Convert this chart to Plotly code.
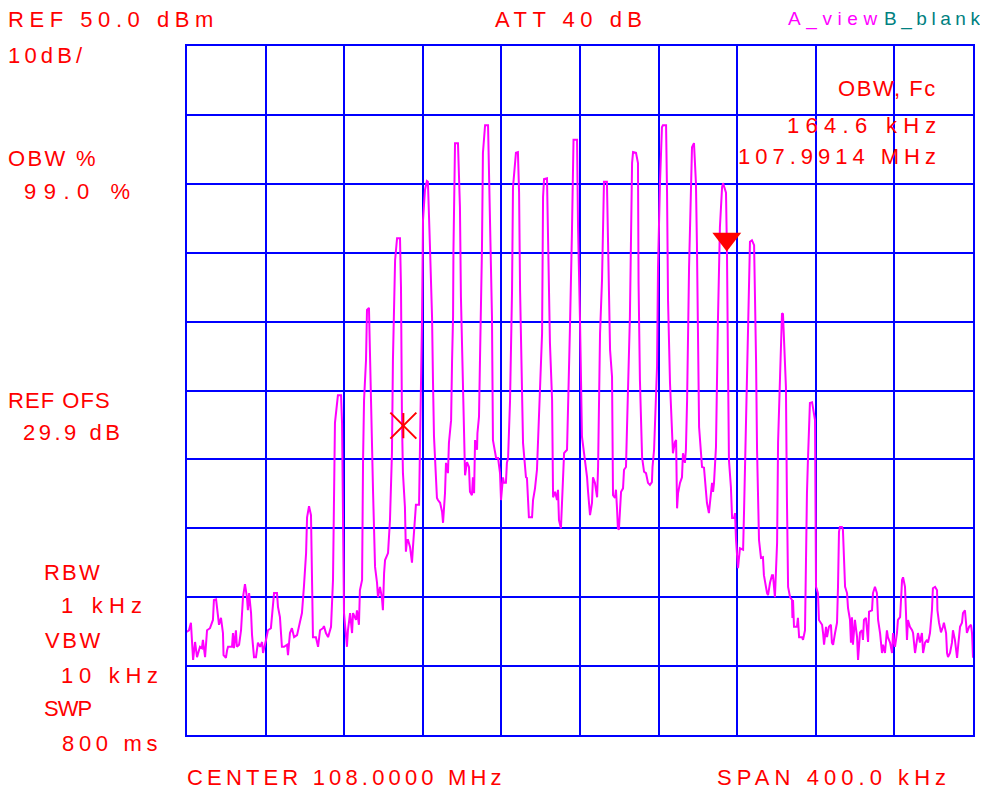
import plotly.graph_objects as go

# ---- spectrum trace: offset from 108.0000 MHz centre, kHz / level, dBm
FREQ_KHZ = [
    -200.5, -199.0, -198.0, -196.9, -195.9, -194.9, -193.4, -192.4, -191.9, -190.8,
    -189.8, -188.3, -186.8, -186.3, -185.2, -184.2, -183.7, -182.7, -181.7, -181.4,
    -180.2, -179.6, -179.1, -177.1, -176.6, -176.1, -175.1, -174.6, -173.5, -172.5,
    -171.5, -170.5, -169.5, -169.0, -168.4, -167.4, -166.9, -165.9, -164.9, -163.9,
    -162.8, -161.8, -161.3, -159.8, -158.8, -157.3, -156.7, -155.7, -154.2, -153.7,
    -152.7, -151.7, -150.6, -149.1, -148.6, -147.6, -146.6, -145.5, -144.0, -143.0,
    -142.0, -141.5, -140.5, -139.4, -138.9, -137.9, -136.9, -136.4, -135.9, -134.4,
    -133.3, -132.3, -130.8, -130.3, -129.3, -128.2, -126.7, -125.7, -125.2, -124.7,
    -123.2, -121.6, -121.1, -120.6, -120.1, -118.6, -118.1, -117.0, -116.0, -115.5,
    -114.0, -113.5, -112.5, -112.0, -110.9, -110.4, -109.9, -108.9, -108.4, -107.4,
    -106.9, -106.4, -105.9, -105.3, -104.3, -103.3, -102.8, -101.8, -100.8, -100.3,
    -99.7, -99.2, -97.7, -96.7, -95.7, -95.2, -94.1, -93.1, -91.6, -91.1,
    -90.6, -90.1, -89.1, -88.6, -88.0, -87.5, -86.5, -85.5, -85.0, -84.0,
    -83.5, -81.9, -81.4, -80.4, -79.9, -78.9, -77.9, -77.4, -76.3, -75.3,
    -74.8, -74.3, -72.8, -72.3, -71.2, -70.2, -69.7, -68.7, -68.2, -67.2,
    -66.7, -65.6, -65.1, -64.6, -64.4, -63.6, -62.1, -61.1, -60.6, -59.5,
    -59.0, -58.5, -57.5, -56.5, -56.0, -55.0, -54.5, -53.9, -53.4, -52.4,
    -52.2, -51.4, -50.9, -49.9, -49.4, -48.3, -46.8, -46.3, -45.8, -44.8,
    -44.3, -42.7, -41.7, -40.7, -40.2, -39.2, -38.7, -37.7, -37.2, -36.6,
    -35.6, -34.6, -34.1, -32.6, -31.6, -31.0, -30.5, -29.5, -29.0, -27.5,
    -27.0, -26.0, -24.4, -23.9, -22.9, -21.9, -21.4, -20.4, -19.3, -18.8,
    -18.3, -16.8, -16.3, -15.3, -14.2, -13.7, -12.7, -11.7, -11.2, -10.7,
    -9.7, -8.7, -8.1, -6.6, -6.1, -5.1, -4.1, -3.6, -3.3, -1.5,
    -1.0, 0.0, 1.0, 2.5, 3.6, 4.1, 5.1, 6.1, 6.6, 7.6,
    8.7, 9.2, 10.2, 11.2, 11.7, 12.2, 13.7, 14.2, 15.3, 16.3,
    16.8, 17.8, 18.3, 18.8, 19.3, 19.8, 20.4, 20.9, 21.9, 22.4,
    23.4, 24.4, 25.4, 26.5, 27.0, 28.5, 29.5, 29.8, 30.5, 31.6,
    32.6, 33.6, 34.6, 35.6, 36.6, 36.9, 37.7, 39.2, 39.7, 40.7,
    41.7, 42.2, 43.8, 44.3, 44.8, 45.8, 46.8, 47.3, 48.3, 48.9,
    49.4, 49.9, 50.9, 51.9, 52.4, 53.4, 53.9, 54.5, 55.5, 57.0,
    58.0, 59.0, 59.5, 59.8, 60.6, 62.1, 63.1, 64.6, 65.6, 67.2,
    67.7, 68.2, 69.2, 70.2, 71.2, 72.3, 72.8, 74.3, 74.8, 75.3,
    75.8, 76.8, 77.4, 78.4, 78.9, 79.4, 80.4, 81.4, 83.0, 83.5,
    84.5, 85.5, 86.5, 87.5, 88.6, 89.6, 90.1, 91.1, 92.1, 93.1,
    93.6, 95.2, 95.7, 96.7, 97.7, 98.2, 99.2, 100.3, 100.8, 101.8,
    102.8, 103.3, 104.3, 104.8, 105.3, 105.9, 106.9, 107.9, 108.1, 108.4,
    108.9, 110.4, 110.9, 111.5, 113.0, 113.5, 114.5, 115.0, 115.5, 116.0,
    117.0, 118.1, 118.6, 119.6, 120.1, 121.1, 121.6, 123.2, 123.7, 124.2,
    125.2, 125.7, 126.7, 127.7, 128.2, 128.8, 129.8, 130.8, 131.3, 131.8,
    132.3, 133.3, 133.8, 134.9, 135.9, 136.4, 137.4, 137.9, 138.4, 138.9,
    139.9, 141.0, 141.5, 142.5, 143.5, 144.0, 144.5, 145.5, 146.6, 147.1,
    148.6, 149.1, 150.1, 151.1, 151.7, 152.7, 153.7, 154.2, 155.2, 156.2,
    156.7, 157.8, 158.8, 159.3, 160.3, 161.3, 161.8, 162.9, 163.9, 164.4,
    165.4, 165.9, 166.4, 166.9, 167.9, 169.0, 169.5, 170.5, 171.5, 172.0,
    173.0, 174.0, 174.6, 175.6, 176.6, 177.1, 178.1, 179.1, 179.6, 180.7,
    181.7, 181.9, 182.7, 183.7, 184.7, 185.2, 186.3, 186.8, 187.3, 188.3,
    189.3, 189.8, 190.8, 191.9, 192.4, 193.4, 194.4, 194.9, 195.9, 196.4,
    196.9, 198.0, 199.0, 199.5, 200.0,
]
LEVEL_DBM = [
    -35.1, -34.8, -33.7, -39.1, -36.5, -38.7, -37.2, -37.4, -36.2, -38.7,
    -34.8, -34.5, -33.3, -30.4, -30.3, -32.3, -34.0, -33.0, -35.2, -38.4,
    -38.8, -37.7, -37.2, -37.2, -35.2, -37.4, -34.8, -37.2, -36.9, -34.8,
    -30.0, -28.1, -30.0, -31.9, -29.4, -32.3, -35.5, -38.7, -38.7, -36.6,
    -37.2, -36.5, -38.1, -36.2, -34.8, -34.5, -32.3, -29.4, -29.4, -31.4,
    -32.9, -37.2, -37.2, -36.9, -38.4, -35.2, -34.5, -35.8, -35.5, -34.3,
    -32.9, -32.3, -28.5, -23.6, -18.4, -16.8, -18.1, -27.5, -35.8, -35.8,
    -37.2, -34.8, -34.5, -34.2, -35.2, -35.8, -34.3, -27.5, -18.4, -4.7,
    -0.7, -0.7, -4.7, -21.7, -32.3, -37.2, -34.8, -32.3, -35.2, -32.3,
    -33.3, -31.9, -34.0, -29.0, -27.5, -10.1, -1.4, 4.4, 11.7, 12.0,
    5.4, -2.4, -10.1, -14.9, -25.6, -27.9, -30.0, -28.5, -30.1, -31.9,
    -26.5, -24.6, -23.6, -18.8, -9.1, 4.4, 18.9, 22.1, 22.1, 15.0,
    -4.3, -12.0, -16.9, -23.4, -21.7, -21.7, -22.7, -25.0, -22.7, -18.8,
    -16.6, -16.6, -9.1, 10.2, 24.7, 29.1, 30.4, 30.3, 20.4, 10.7,
    1.1, -6.7, -15.6, -15.9, -16.3, -17.6, -19.2, -14.9, -10.5, -12.0,
    -7.6, -4.3, 4.4, 10.7, 20.4, 35.9, 35.9, 26.6, 13.6, 2.0,
    -5.3, -12.3, -10.4, -11.1, -14.7, -15.2, -12.6, -14.9, -7.2, -8.6,
    -6.2, -3.8, 4.4, 20.4, 34.5, 38.5, 38.5, 32.4, 21.8, 10.7,
    -7.2, -9.8, -9.8, -12.0, -15.9, -12.6, -13.4, -13.4, -10.5, -9.8,
    -1.4, 14.2, 29.5, 34.5, 34.6, 28.7, 14.6, 2.0, -7.6, -12.6,
    -12.7, -18.4, -18.4, -15.9, -14.2, -11.5, -7.6, -1.4, 8.3, 28.1,
    30.7, 30.8, 23.7, 6.9, -1.4, -15.5, -14.7, -15.9, -14.4, -18.8,
    -20.0, -14.4, -9.1, -8.6, -0.9, 9.2, 22.9, 33.0, 36.4, 36.4,
    23.7, 10.2, -6.7, -10.1, -12.6, -14.7, -18.1, -16.3, -12.6, -13.4,
    -15.5, -11.1, 8.3, 16.0, 25.2, 30.3, 30.3, 20.4, 5.9, 2.0,
    -15.2, -15.6, -14.4, -16.9, -20.0, -20.2, -17.1, -14.7, -14.2, -11.5,
    -11.1, 0.5, 10.7, 33.0, 34.6, 34.5, 33.0, 15.6, 1.5, -9.7,
    -11.8, -12.0, -13.4, -13.7, -13.3, -11.1, -8.6, 3.4, 17.9, 30.1,
    38.2, 38.5, 38.5, 28.7, 13.1, 1.1, -7.9, -9.1, -7.5, -7.2,
    -17.1, -14.9, -13.4, -12.6, -9.1, -10.5, -8.6, -1.4, 17.9, 35.3,
    35.9, 30.1, 21.4, 11.7, -5.3, -11.1, -11.2, -16.3, -17.8, -13.4,
    -14.7, -13.4, -8.2, 10.2, 23.7, 29.5, 30.1, 28.7, 20.0, 4.4,
    -10.1, -14.0, -18.5, -18.5, -17.8, -21.7, -25.8, -22.9, -23.1, -17.3,
    -3.3, 12.7, 21.6, 21.8, 21.1, 4.4, -8.6, -21.7, -24.3, -24.2,
    -26.8, -29.4, -29.7, -27.9, -26.8, -26.8, -30.0, -22.1, -7.6, 2.0,
    11.2, 11.1, 4.4, 0.5, -15.5, -28.5, -30.0, -30.4, -33.0, -30.4,
    -34.3, -34.3, -33.0, -35.8, -35.8, -36.2, -34.8, -22.7, -14.9, -10.1,
    -1.8, -1.7, -2.4, -4.3, -28.5, -29.4, -33.3, -34.0, -35.2, -36.9,
    -34.3, -35.8, -34.3, -34.0, -36.6, -36.9, -35.2, -33.7, -28.5, -20.5,
    -19.8, -19.8, -20.2, -28.5, -29.4, -31.6, -33.3, -36.6, -32.9, -36.9,
    -33.3, -35.8, -39.1, -35.1, -34.8, -36.2, -33.3, -33.0, -36.5, -32.1,
    -31.9, -29.4, -28.5, -29.4, -33.3, -35.2, -38.1, -36.9, -38.1, -34.8,
    -35.8, -36.6, -38.1, -35.2, -37.2, -35.2, -33.3, -32.9, -27.5, -27.1,
    -28.5, -34.3, -36.2, -33.3, -34.3, -34.8, -35.2, -38.1, -36.2, -35.2,
    -36.6, -35.2, -38.1, -36.6, -36.2, -36.6, -35.2, -31.9, -28.7, -28.5,
    -29.0, -31.9, -33.7, -35.1, -34.3, -33.7, -35.2, -38.1, -38.7, -38.1,
    -36.6, -34.8, -36.2, -38.8, -37.2, -34.3, -33.7, -32.3, -31.9, -34.3,
    -35.2, -34.3, -34.0, -35.2, -38.8,
]

# markers: OBW lower edge (asterisk) and upper edge (triangle)
EDGE_FREQ_KHZ = [-89.9]
EDGE_LEVEL_DBM = [-5.1]
OBW_MARK_FREQ_KHZ = [74.7]
OBW_MARK_LEVEL_DBM = [22.0]

# ---- screen annotations
RED = '#ff0000'
MAG = '#ff00ff'
TEAL = '#008080'

# Liberation Sans advance widths (em) - used to spread each label like the screen's fixed-pitch font
ADV = {' ': 0.278, '.': 0.278, ',': 0.278, '/': 0.278, '%': 0.889, '_': 0.556,
       'A': 0.667, 'B': 0.667, 'C': 0.722, 'E': 0.667, 'F': 0.611, 'H': 0.722, 'M': 0.833,
       'N': 0.722, 'O': 0.778, 'P': 0.667, 'R': 0.722, 'S': 0.667, 'T': 0.611, 'V': 0.667,
       'W': 0.944, 'a': 0.556, 'b': 0.556, 'c': 0.5, 'd': 0.556, 'e': 0.556, 'i': 0.222,
       'k': 0.5, 'l': 0.222, 'm': 0.833, 'n': 0.556, 's': 0.5, 'v': 0.5, 'w': 0.722, 'z': 0.5}


def spaced(text, size, cell):
    n = len(text)
    natural = sum(ADV.get(ch, 0.556) for ch in text[:-1]) * size
    ls = cell - natural / (n - 1)
    return '<span style="letter-spacing:%.2fpx">%s</span>' % (ls, text)


# page pixels (the browser adds an 8 px body margin around the figure)
PAGE_MARGIN = 8
W, H = 988 - PAGE_MARGIN, 794 - PAGE_MARGIN
L, R, T, B = 187, 973, 46, 735   # plot frame in page pixels


def px(X):
    return (X - L) / (R - L)


def py(Y):
    return (B - Y) / (B - T)


FS = 22
# text, left x of first cell, vertical centre, colour, size, cell width
labels = [
    ("REF 50.0 dBm", 8.0, 19.5, RED, FS, 17.0),
    ("10dB/", 8.0, 55, RED, FS, 17.0),
    ("ATT 40 dB", 495, 19.5, RED, FS, 16.8),
    ("A_view", 788, 19.5, MAG, 19, 15.1),
    ("B_blank", 883.6, 19.5, TEAL, 19, 14.4),
    ("OBW, Fc", 838, 88.5, RED, FS, 14.6),
    ("164.6 kHz", 786.7, 125, RED, FS, 17.3),
    ("107.9914 MHz", 737.7, 157, RED, FS, 17.0),
    ("OBW %", 8.0, 158.7, RED, FS, 17.0),
    ("99.0 %", 24, 191.3, RED, FS, 17.3),
    ("REF OFS", 8.0, 400.5, RED, FS, 14.5),
    ("29.9 dB", 22.7, 432.5, RED, FS, 13.7),
    ("RBW", 43.5, 572, RED, FS, 17.5),
    ("1 kHz", 60.7, 605.5, RED, FS, 17.5),
    ("VBW", 44.5, 640.5, RED, FS, 17.3),
    ("10 kHz", 60.7, 675, RED, FS, 17.2),
    ("SWP", 44, 708.5, RED, FS, 16.8),
    ("800 ms", 62.3, 743.5, RED, FS, 16.9),
    ("CENTER 108.0000 MHz", 186.5, 777, RED, FS, 16.86),
    ("SPAN 400.0 kHz", 717, 777, RED, FS, 16.9),
]

fig = go.Figure()
fig.add_trace(go.Scatter(x=FREQ_KHZ, y=LEVEL_DBM, mode='lines',
                         line=dict(color=MAG, width=2), hoverinfo='skip'))
fig.add_trace(go.Scatter(x=EDGE_FREQ_KHZ, y=EDGE_LEVEL_DBM, mode='markers', hoverinfo='skip',
                         marker=dict(symbol='x-thin-open', size=26, color=RED,
                                     line=dict(color=RED, width=2))))
fig.add_trace(go.Scatter(x=EDGE_FREQ_KHZ, y=EDGE_LEVEL_DBM, mode='markers', hoverinfo='skip',
                         marker=dict(symbol='line-ns-open', size=18, color=RED,
                                     line=dict(color=RED, width=2))))
fig.add_trace(go.Scatter(x=OBW_MARK_FREQ_KHZ, y=OBW_MARK_LEVEL_DBM, mode='markers', hoverinfo='skip',
                         marker=dict(symbol='triangle-down', size=25, color=RED,
                                     line=dict(width=0))))

for text, X, Y, color, size, cell in labels:
    fig.add_annotation(text=spaced(text, size, cell), x=px(X), y=py(Y),
                       xref='paper', yref='paper', xanchor='left', yanchor='middle',
                       showarrow=False, borderpad=0, borderwidth=0,
                       font=dict(family='Liberation Sans, Arial, sans-serif', size=size, color=color))

axis_common = dict(showgrid=True, gridcolor='#0000ff', gridwidth=1.5, zeroline=False,
                   showline=True, linecolor='#0000ff', linewidth=1.5, mirror=True,
                   showticklabels=False, ticks='', fixedrange=True)
fig.update_xaxes(range=[-200, 200], tick0=-200, dtick=40, **axis_common)
fig.update_yaxes(range=[-50, 50], tick0=-50, dtick=10, **axis_common)
fig.update_layout(width=W, height=H, showlegend=False,
                  margin=dict(l=L - PAGE_MARGIN, r=W - (R - PAGE_MARGIN),
                              t=T - PAGE_MARGIN, b=H - (B - PAGE_MARGIN)),
                  paper_bgcolor='white', plot_bgcolor='white')
fig.write_html("out.html")
